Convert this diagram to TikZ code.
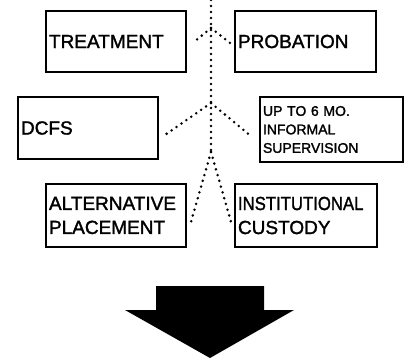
\documentclass[tikz,border=0pt]{standalone}
\usepackage{fontspec}
\setmainfont{Liberation Sans}
\newfontfamily\medfont{Liberation Sans}[FakeBold=1.6]
\usetikzlibrary{calc}
\begin{document}
\begin{tikzpicture}[x=1pt,y=-1pt,
  box/.style={draw, line width=1.9pt, rectangle, inner xsep=3pt, inner ysep=0pt, align=left, font=\medfont\fontsize{19}{24}\selectfont},
  sbox/.style={box, font=\medfont\fontsize{14}{18.5}\selectfont},
  dotline/.style={line width=2.8pt, line cap=round, dash pattern=on 0pt off 6pt}]
\useasboundingbox (0,0) rectangle (411,360);
\node[box, minimum width=140pt, minimum height=61pt, text width=134pt] (trt) at (116,41.5) {TREATMENT};
\node[box, minimum width=141pt, minimum height=61pt, text width=135pt] (prob) at (305.5,41.5) {PROBATION};
\node[box, minimum width=140pt, minimum height=62pt, text width=134pt] (dcfs) at (88,128) {DCFS};
\node[sbox, minimum width=143pt, minimum height=65pt, text width=137pt] (upto) at (331.5,129.5) {UP TO 6 MO.\\INFORMAL\\SUPERVISION};
\node[box, minimum width=140pt, minimum height=63pt, text width=134pt] (alt) at (116,215.5) {ALTERNATIVE\\PLACEMENT};
\node[box, minimum width=142pt, minimum height=63pt, text width=136pt] (inst) at (306,215.5) {\scalebox{0.88}[1]{INSTITUTIONAL}\\CUSTODY};
\coordinate (c0) at (211,0);
\coordinate (j1) at (211,28);
\coordinate (j2) at (211,103);
\coordinate (j3) at (211,152);
\draw[dotline] (c0) -- (j3);
\draw[dotline] (j1) -- ($(trt.east)+(7,0.5)$);
\draw[dotline] (j1) -- ($(prob.west)+(-4,1.5)$);
\draw[dotline] (j2) -- ($(dcfs.east)+(3,9)$);
\draw[dotline] (j2) -- ($(upto.west)+(-7,7.5)$);
\draw[dotline] (j3) -- ($(alt.east)+(4,6.5)$);
\draw[dotline] (j3) -- ($(inst.west)+(-3,6.5)$);
\fill (156,286) -- (264,286) -- (264,310) -- (294,310) -- (210,358) -- (125,310) -- (156,310) -- cycle;
\end{tikzpicture}
\end{document}
